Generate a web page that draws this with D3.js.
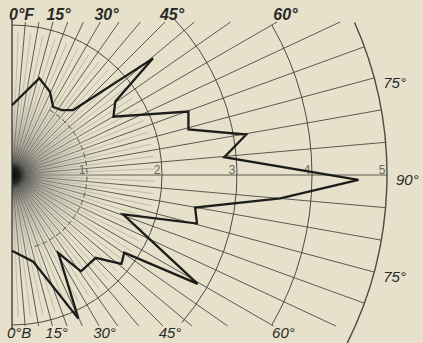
<!DOCTYPE html>
<html>
<head>
<meta charset="utf-8">
<script src="https://cdn.jsdelivr.net/npm/d3@7"></script>
<style>
  html, body { margin: 0; padding: 0; background: #e7e1cc; }
  svg { display: block; }
</style>
</head>
<body>
<svg id="chart" width="423" height="343"></svg>
<script>
// Bearing of each vertex, degrees from the bow (0 = F, 90 = abeam, 180 = B)
const bearings = [0, 15.8, 24.5, 31.2, 37.4, 43.3, 50.4, 54.6, 60.1, 70.2, 75.5, 80.2, 85.2,
  90.8, 95.0, 100.1, 104.7, 109.5, 120.4, 124.7, 129.1, 134.7, 144.4, 149.3, 155.2, 166.2, 180];
// Radial value at each vertex
const radii = [0.93, 1.34, 1.22, 1.06, 1.09, 1.19, 2.44, 1.69, 1.56, 2.50, 2.43, 3.17, 2.84,
  4.62, 3.59, 2.48, 2.55, 1.57, 2.87, 1.82, 1.88, 1.57, 1.58, 1.21, 2.11, 1.19, 1.01];

// Grid rings and their labels
const ringValues = [1, 2, 3, 4, 5];
// Angle labels: forward half (bearing) and aft half (bearing from stern)
const frontTicks = [0, 15, 30, 45, 60];
const frontLabels = ["0°F", "15°", "30°", "45°", "60°"];
const backTicks = [0, 15, 30, 45, 60];
const backLabels = ["0°B", "15°", "30°", "45°", "60°"];
const sideTicks = [75, 90, 105];
const sideLabels = ["75°", "90°", "75°"];

const W = 423, H = 343;
const cx = 12, cy = 175;
const topY = 22, bottomY = 326;
const rad = Math.PI / 180;

const r = d3.scaleLinear().domain([0, 5]).range([0, 375]);
const svg = d3.select("#chart");
const g = svg.append("g").attr("transform", `translate(${cx},${cy})`);

// length of a spoke, limited by the outer ring and the sheet edges
function spokeLength(b) {
  const c = Math.cos(b * rad);
  let len = r(5);
  if (c > 1e-6) len = Math.min(len, (cy - topY) / c);
  if (c < -1e-6) len = Math.min(len, (bottomY - cy) / -c);
  return len;
}
function pt(b, len) {
  return [len * Math.sin(b * rad), -len * Math.cos(b * rad)];
}

// intermediate spokes near the pole
const minor = d3.range(2.5, 180, 5);
g.selectAll("line.minor").data(minor).join("line")
  .attr("class", "minor")
  .attr("x1", b => pt(b, r(0.1))[0]).attr("y1", b => pt(b, r(0.1))[1])
  .attr("x2", b => pt(b, r(1.9))[0]).attr("y2", b => pt(b, r(1.9))[1])
  .attr("stroke", "#77776e").attr("stroke-width", 0.6).attr("opacity", 0.6);

// main spokes every 5 degrees
const spokes = d3.range(5, 180, 5);
g.selectAll("line.spoke").data(spokes).join("line")
  .attr("class", "spoke")
  .attr("x1", b => pt(b, r(0.05))[0]).attr("y1", b => pt(b, r(0.05))[1])
  .attr("x2", b => pt(b, spokeLength(b))[0]).attr("y2", b => pt(b, spokeLength(b))[1])
  .attr("stroke", "#4a4a44").attr("stroke-width", 0.9);

// shading at the pole where the spokes crowd together
const defs = svg.append("defs");
const grad = defs.append("radialGradient").attr("id", "haze")
  .attr("gradientUnits", "userSpaceOnUse").attr("cx", 0).attr("cy", 0).attr("r", r(1.45));
[[0, "#050505", 1], [0.07, "#1e1e1e", 0.95], [0.13, "#5a5a56", 0.8], [0.28, "#8f8d85", 0.6],
 [0.5, "#b3b0a3", 0.4], [0.78, "#d2cdb9", 0.2], [1, "#e7e1cc", 0]].forEach(([o, c, a]) =>
  grad.append("stop").attr("offset", o).attr("stop-color", c).attr("stop-opacity", a));
g.append("path")
  .attr("d", d3.arc()({innerRadius: 0, outerRadius: r(1.45), startAngle: 0, endAngle: Math.PI}))
  .attr("fill", "url(#haze)");

// fore-and-aft axis
g.append("line")
  .attr("x1", 0).attr("y1", topY - cy - 4).attr("x2", 0).attr("y2", bottomY - cy + 4)
  .attr("stroke", "#333").attr("stroke-width", 1.3);

// rings, each drawn over the sector where it appears
const ringSpan = {1: [30, 165], 2: [0, 180], 3: [46, 131], 4: [60, 120], 5: [66, 118]};
ringValues.forEach(v => {
  const [b0, b1] = ringSpan[v];
  const p = d3.path();
  const s0 = pt(b0, r(v));
  p.moveTo(s0[0], s0[1]);
  p.arc(0, 0, r(v), (b0 - 90) * rad, (b1 - 90) * rad);
  g.append("path").attr("d", p.toString())
    .attr("fill", "none")
    .attr("stroke", v === 1 ? "#5a5a52" : "#4a4a44")
    .attr("stroke-width", v === 5 ? 1.4 : 1)
    .attr("stroke-dasharray", v === 1 ? "5,3" : null);
});

// ring value labels along the beam line
g.selectAll("text.ring").data(ringValues).join("text")
  .attr("class", "ring")
  .attr("x", v => r(v) - 5).attr("y", -1)
  .attr("text-anchor", "middle")
  .attr("font-family", "Liberation Sans, Arial, sans-serif")
  .attr("font-size", 12).attr("fill", "#6b6a62")
  .text(v => v);

// the measured outline
const outline = bearings.map((b, i) => [b * rad, r(radii[i])]);
g.append("path")
  .attr("d", d3.lineRadial().angle(d => d[0]).radius(d => d[1])(outline))
  .attr("fill", "none").attr("stroke", "#1c1c1a").attr("stroke-width", 2.3)
  .attr("stroke-linejoin", "miter");

// angle labels
const font = "Liberation Sans, Arial, sans-serif";
frontTicks.forEach((b, i) => {
  const x = (cy - 20) * Math.tan(b * rad);
  g.append("text")
    .attr("x", b === 0 ? -3 : x + 5).attr("y", 20 - cy)
    .attr("text-anchor", b === 0 ? "start" : "middle")
    .attr("font-family", font).attr("font-size", 16)
    .attr("font-style", "italic").attr("font-weight", "bold")
    .attr("fill", "#2a2a26").text(frontLabels[i]);
});
backTicks.forEach((b, i) => {
  const x = (330 - cy) * Math.tan(b * rad);
  g.append("text")
    .attr("x", b === 0 ? -5 : x + 3).attr("y", 338 - cy)
    .attr("text-anchor", b === 0 ? "start" : "middle")
    .attr("font-family", font).attr("font-size", 15)
    .attr("font-style", "italic")
    .attr("fill", "#2a2a26").text(backLabels[i]);
});
sideTicks.forEach((b, i) => {
  const [x, y] = pt(b, r(5));
  g.append("text")
    .attr("x", x + 9).attr("y", y + 10)
    .attr("font-family", font).attr("font-size", 15)
    .attr("font-style", "italic")
    .attr("fill", "#2a2a26").text(sideLabels[i]);
});
</script>
</body>
</html>
